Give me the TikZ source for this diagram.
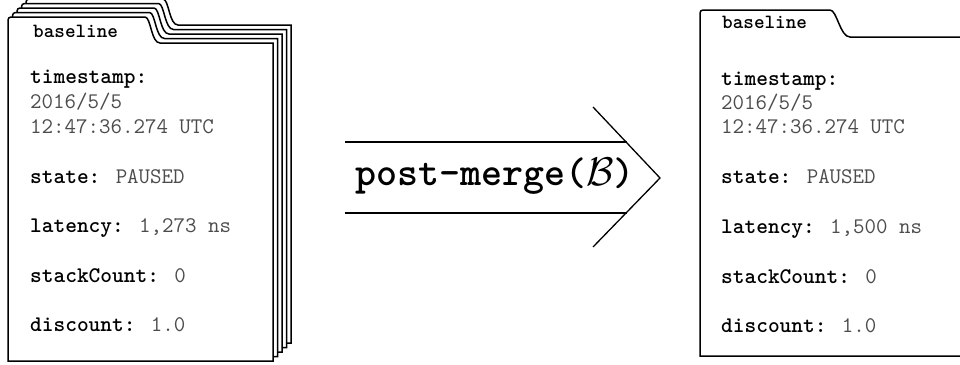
\RequirePackage{fix-cm}
\documentclass[tikz,border=0pt]{standalone}
\usepackage{fontspec}
\begin{document}
\begin{tikzpicture}[x=1pt,y=-1pt,
  folderline/.style={draw=black,line width=1.5pt,fill=white},
  keytext/.style={anchor=base west,inner sep=0pt,font=\fontsize{22.3}{24}\ttfamily\bfseries},
  valtext/.style={anchor=base west,inner sep=0pt,text=black!70,font=\fontsize{22.3}{24}\ttfamily},
  tabtext/.style={anchor=base west,inner sep=0pt,font=\fontsize{20.2}{22}\ttfamily\bfseries},
  arrowline/.style={draw=black,line width=1.3pt}]
\useasboundingbox (0,0) rectangle (960,364);
\clip (0,0) rectangle (960,364);
% left stacked folders
\foreach \k in {4,3,2,1,0}{
  \begin{scope}[shift={(4.5*\k,-4.5*\k)}]
    \path[folderline] (8,361) -- (8,20) [rounded corners=3pt] -- (8,17) -- (142,17) [sharp corners]
      .. controls (151,17) and (151,43) .. (160,43) -- (273,43) -- (273,361) -- cycle;
  \end{scope}
}
% right folder
\path[folderline] (700,356) -- (700,14) [rounded corners=3pt] -- (700,10) -- (827,10) [sharp corners]
  .. controls (837,10) and (840,37) .. (850,37) -- (1000,37) -- (1000,356) -- cycle;
% left texts
\node[tabtext] (lb) at (33,37) {baseline};
\node[keytext] (lts) at (30,83) {timestamp:};
\node[valtext] (ld) at (30,108) {2016/5/5};
\node[valtext] (lt) at (30,133) {12:47:36.274 UTC};
\node[keytext] (lst) at (30,183) {state:\textcolor{black!70}{\mdseries{} PAUSED}};
\node[keytext] (llat) at (30,232) {latency:\textcolor{black!70}{\mdseries{} 1,273 ns}};
\node[keytext] (lsc) at (30,282) {stackCount:\textcolor{black!70}{\mdseries{} 0}};
\node[keytext] (ldc) at (30,331) {discount:\textcolor{black!70}{\mdseries{} 1.0}};
% right texts
\node[tabtext] (rb) at (722,28) {baseline};
\node[keytext] (rts) at (721,85) {timestamp:};
\node[valtext] (rd) at (721,109) {2016/5/5};
\node[valtext] (rt) at (721,133) {12:47:36.274 UTC};
\node[keytext] (rst) at (721,183) {state:\textcolor{black!70}{\mdseries{} PAUSED}};
\node[keytext] (rlat) at (721,233) {latency:\textcolor{black!70}{\mdseries{} 1,500 ns}};
\node[keytext] (rsc) at (721,283) {stackCount:\textcolor{black!70}{\mdseries{} 0}};
\node[keytext] (rdc) at (721,332) {discount:\textcolor{black!70}{\mdseries{} 1.0}};
% arrow
\coordinate (a1) at (345,142);
\coordinate (a2) at (627,142);
\coordinate (b1) at (345,213);
\coordinate (b2) at (627,213);
\coordinate (c1) at (593,107);
\coordinate (tip) at (660,178);
\coordinate (c2) at (593,247);
\draw[arrowline] (a1) -- (a2);
\draw[arrowline] (b1) -- (b2);
\draw[arrowline] (c1) -- (tip) -- (c2);
\node[anchor=base west,inner sep=0pt,font=\fontsize{40}{44}\selectfont\ttfamily\bfseries] (lab) at (355,185) {post-merge($\mathcal{B}$)};
\end{tikzpicture}
\end{document}
